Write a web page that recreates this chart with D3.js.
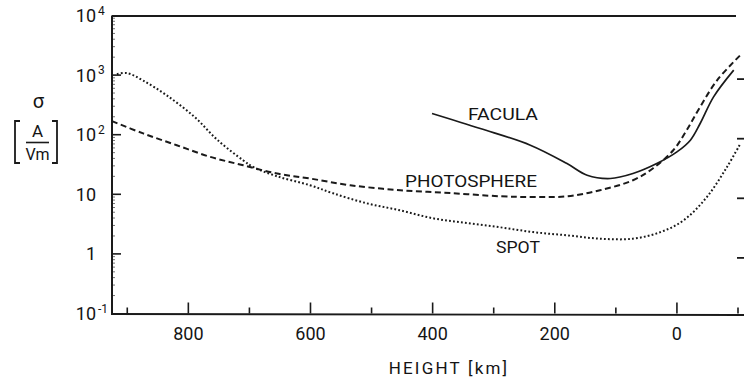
<!DOCTYPE html>
<html>
<head>
<meta charset="utf-8">
<script src="https://cdn.jsdelivr.net/npm/d3@7"></script>
<style>
  html, body { margin: 0; padding: 0; background: #fff; }
  svg { display: block; }
  text { font-family: Roboto, "Liberation Sans", Arial, sans-serif; font-weight: 400; fill: #141414; }
</style>
</head>
<body>
<svg id="chart" width="744" height="383"></svg>
<script>
// Electrical conductivity sigma [A/(V m)] versus height [km]
const spotHeight = [917, 900, 874, 836, 790, 752, 710, 694, 655, 601, 563, 508, 453, 399, 344, 289, 235, 180, 126, 72, 27, -11, -49, -82, -104];
const spotSigma  = [1040, 1080, 810, 461, 199, 81, 37, 28.8, 20.1, 14.2, 10.4, 7.06, 5.38, 3.95, 3.29, 2.79, 2.32, 2.05, 1.80, 1.80, 2.32, 3.66, 9.0, 28.8, 71];

const photoHeight = [925, 874, 819, 764, 710, 655, 601, 535, 453, 371, 289, 235, 180, 126, 72, 39, 6, -16, -38, -66, -104];
const photoSigma  = [169, 105, 66.6, 42.4, 30.7, 22.3, 18.4, 14.2, 11.7, 10.5, 9.25, 9.0, 9.25, 11.7, 17.2, 27.4, 54.8, 119, 293, 824, 2170];

const faculaHeight = [401, 322, 240, 180, 147, 109, 72, 33, 0, -22, -38, -60, -93];
const faculaSigma  = [227, 127, 66.7, 32.8, 20.9, 18.4, 22.3, 32.8, 51.4, 80.9, 154, 432, 1213];

const xMajorTicks = [800, 600, 400, 200, 0];
const xMinorTicks = [900, 700, 500, 300, 100, -100];
const yTicks = [1e4, 1e3, 1e2, 10, 1, 0.1];
const yTickBase = ["10", "10", "10", "10", "1", "10"];
const yTickExp  = ["4", "3", "2", "", "", "-1"];

const svg = d3.select("#chart");

const x = d3.scaleLinear().domain([925, -100]).range([112, 738]);
const y = d3.scaleLog().domain([0.1, 1e4]).range([313.5, 15.5]);

const ink = "#1a1a1a";

// frame: left axis, top line, bottom axis
svg.append("line").attr("x1", x(925)).attr("x2", x(925)).attr("y1", y(1e4)).attr("y2", y(0.1) + 0.5)
  .attr("stroke", ink).attr("stroke-width", 2);
svg.append("line").attr("x1", x(925)).attr("x2", 736).attr("y1", y(1e4) + 0.5).attr("y2", y(1e4) + 0.5)
  .attr("stroke", ink).attr("stroke-width", 1.8);
svg.append("line").attr("x1", x(925) - 1).attr("x2", 744).attr("y1", y(0.1) + 0.5).attr("y2", y(0.1) + 1.5)
  .attr("stroke", ink).attr("stroke-width", 1.8);

// x ticks (pointing up into the plot)
svg.selectAll(".xmaj").data(xMajorTicks).join("line")
  .attr("x1", d => x(d)).attr("x2", d => x(d))
  .attr("y1", y(0.1)).attr("y2", y(0.1) - 11)
  .attr("stroke", ink).attr("stroke-width", 1.6);
svg.selectAll(".xmin").data(xMinorTicks).join("line")
  .attr("x1", d => x(d)).attr("x2", d => x(d))
  .attr("y1", y(0.1)).attr("y2", y(0.1) - 6)
  .attr("stroke", ink).attr("stroke-width", 1.6);

svg.selectAll(".xlab").data(xMajorTicks).join("text")
  .attr("x", d => x(d)).attr("y", 340)
  .attr("text-anchor", "middle").attr("font-size", 18)
  .text(d => d);

svg.append("text").attr("x", 449).attr("y", 374)
  .attr("text-anchor", "middle").attr("font-size", 17)
  .attr("letter-spacing", 2.2)
  .text("HEIGHT [km]");

// y ticks on the left (pointing right) and short marks on the right edge
svg.selectAll(".ymaj").data(yTicks.slice(1, 5)).join("line")
  .attr("x1", x(925)).attr("x2", x(925) + 9)
  .attr("y1", d => y(d)).attr("y2", d => y(d))
  .attr("stroke", ink).attr("stroke-width", 1.6);
svg.selectAll(".yright").data(yTicks.slice(1, 5)).join("line")
  .attr("x1", 737).attr("x2", 744)
  .attr("y1", d => y(d) + 4).attr("y2", d => y(d) + 4)
  .attr("stroke", ink).attr("stroke-width", 1.8);

// log minor ticks along the left axis
const minor = [];
[0.1, 1, 10, 100, 1000].forEach(dec => [2, 3, 4, 5, 6, 7, 8, 9].forEach(m => minor.push(dec * m)));
svg.selectAll(".ymin").data(minor).join("line")
  .attr("x1", x(925)).attr("x2", x(925) + 3)
  .attr("y1", d => y(d)).attr("y2", d => y(d))
  .attr("stroke", ink).attr("stroke-width", 1).attr("opacity", 0.6);

const ylab = svg.selectAll(".ylab").data(yTicks).join("g");
ylab.append("text")
  .attr("x", 96).attr("y", d => y(d) + 6.5)
  .attr("text-anchor", "end").attr("font-size", 18)
  .text((d, i) => yTickBase[i]);
ylab.append("text")
  .attr("x", 98).attr("y", d => y(d) - 1)
  .attr("text-anchor", "start").attr("font-size", 12)
  .text((d, i) => yTickExp[i]);

// y-axis title: sigma [A / Vm]
svg.append("text").attr("x", 38.5).attr("y", 108).attr("text-anchor", "middle")
  .attr("font-size", 20).text("σ");
svg.append("text").attr("x", 37.5).attr("y", 137).attr("text-anchor", "middle")
  .attr("font-size", 17).text("A");
svg.append("line").attr("x1", 26).attr("x2", 49).attr("y1", 142.5).attr("y2", 142.5)
  .attr("stroke", ink).attr("stroke-width", 1.6);
svg.append("text").attr("x", 37.5).attr("y", 160).attr("text-anchor", "middle")
  .attr("font-size", 16).text("Vm");
svg.append("path").attr("d", "M20,121 H15 V163 H20").attr("fill", "none")
  .attr("stroke", ink).attr("stroke-width", 1.8);
svg.append("path").attr("d", "M52,121 H57 V163 H52").attr("fill", "none")
  .attr("stroke", ink).attr("stroke-width", 1.8);

// curves (points ordered left to right on screen)
const line = d3.line()
  .x(d => x(d[0])).y(d => y(d[1]))
  .curve(d3.curveCatmullRom.alpha(0.5));

const series = [
  { h: spotHeight,   s: spotSigma,   dash: "1.8 2.2", width: 2 },
  { h: photoHeight,  s: photoSigma,  dash: "6 3.5",   width: 2 },
  { h: faculaHeight, s: faculaSigma, dash: null,      width: 1.7 }
];

series.forEach(sr => {
  svg.append("path")
    .datum(sr.h.map((h, i) => [h, sr.s[i]]))
    .attr("d", line)
    .attr("fill", "none")
    .attr("stroke", ink)
    .attr("stroke-width", sr.width)
    .attr("stroke-dasharray", sr.dash);
});

// curve labels
svg.append("text").attr("x", 503).attr("y", 120).attr("text-anchor", "middle")
  .attr("font-size", 17).attr("textLength", 70).attr("lengthAdjust", "spacingAndGlyphs").text("FACULA");
svg.append("text").attr("x", 471).attr("y", 187).attr("text-anchor", "middle")
  .attr("font-size", 17).attr("textLength", 132).attr("lengthAdjust", "spacingAndGlyphs").text("PHOTOSPHERE");
svg.append("text").attr("x", 518).attr("y", 253).attr("text-anchor", "middle")
  .attr("font-size", 17).attr("textLength", 44).attr("lengthAdjust", "spacingAndGlyphs").text("SPOT");
</script>
</body>
</html>
